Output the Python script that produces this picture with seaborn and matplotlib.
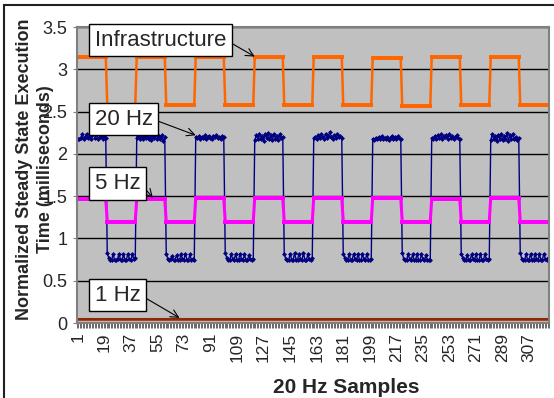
import numpy as np
import pandas as pd
import matplotlib
matplotlib.use('Agg')
import matplotlib.pyplot as plt
import seaborn as sns
from matplotlib.patches import Rectangle

# levels per half cycle (high phase, then low phase), 8 cycles of 20 + 20 samples
infra_high = [3.15, 3.15, 3.15, 3.15, 3.15, 3.13, 3.15, 3.14]
infra_low = [2.58, 2.58, 2.58, 2.58, 2.58, 2.56, 2.58, 2.58]

hz5_high = [1.47, 1.47, 1.48, 1.48, 1.48, 1.48, 1.47, 1.48]
hz5_low = [1.20, 1.19, 1.20, 1.20, 1.20, 1.20, 1.20, 1.20]

hz1_level = [0.05] * 8

hz20_high = [
    [2.18, 2.17, 2.19, 2.23, 2.18, 2.20, 2.24, 2.19, 2.21, 2.18, 2.22, 2.25, 2.19, 2.23, 2.18, 2.20, 2.22, 2.17, 2.21, 2.19],
    [2.19, 2.21, 2.18, 2.20, 2.17, 2.21, 2.19, 2.22, 2.18, 2.20, 2.16, 2.21, 2.19, 2.23, 2.18, 2.21, 2.17, 2.22, 2.15, 2.20],
    [2.20, 2.19, 2.21, 2.18, 2.20, 2.19, 2.22, 2.18, 2.20, 2.21, 2.19, 2.18, 2.21, 2.20, 2.22, 2.19, 2.20, 2.18, 2.21, 2.20],
    [2.16, 2.22, 2.18, 2.24, 2.17, 2.21, 2.15, 2.23, 2.19, 2.25, 2.17, 2.22, 2.16, 2.24, 2.18, 2.21, 2.16, 2.23, 2.19, 2.20],
    [2.19, 2.20, 2.18, 2.22, 2.19, 2.23, 2.20, 2.18, 2.24, 2.19, 2.21, 2.26, 2.20, 2.18, 2.22, 2.19, 2.24, 2.20, 2.21, 2.19],
    [2.18, 2.16, 2.19, 2.17, 2.20, 2.18, 2.21, 2.17, 2.19, 2.18, 2.20, 2.16, 2.19, 2.21, 2.17, 2.20, 2.18, 2.21, 2.19, 2.18],
    [2.19, 2.18, 2.21, 2.17, 2.22, 2.19, 2.23, 2.18, 2.21, 2.20, 2.22, 2.18, 2.23, 2.19, 2.21, 2.18, 2.20, 2.22, 2.19, 2.18],
    [2.16, 2.23, 2.17, 2.21, 2.15, 2.22, 2.18, 2.24, 2.16, 2.21, 2.17, 2.25, 2.15, 2.22, 2.18, 2.24, 2.17, 2.20, 2.16, 2.19],
]
hz20_low = [
    [0.83, 0.77, 0.74, 0.75, 0.81, 0.75, 0.74, 0.76, 0.82, 0.75, 0.74, 0.81, 0.75, 0.75, 0.82, 0.76, 0.74, 0.81, 0.76, 0.77],
    [0.82, 0.76, 0.74, 0.76, 0.79, 0.74, 0.75, 0.80, 0.75, 0.74, 0.81, 0.76, 0.75, 0.82, 0.75, 0.74, 0.81, 0.75, 0.76, 0.75],
    [0.83, 0.77, 0.75, 0.74, 0.81, 0.76, 0.74, 0.82, 0.75, 0.74, 0.82, 0.76, 0.74, 0.81, 0.75, 0.74, 0.80, 0.76, 0.75, 0.76],
    [0.82, 0.76, 0.75, 0.74, 0.82, 0.75, 0.74, 0.83, 0.75, 0.75, 0.82, 0.76, 0.74, 0.83, 0.75, 0.74, 0.81, 0.76, 0.75, 0.77],
    [0.82, 0.77, 0.74, 0.75, 0.81, 0.75, 0.74, 0.82, 0.76, 0.74, 0.82, 0.75, 0.74, 0.81, 0.76, 0.74, 0.82, 0.75, 0.75, 0.76],
    [0.83, 0.76, 0.74, 0.75, 0.81, 0.76, 0.74, 0.81, 0.75, 0.74, 0.82, 0.75, 0.74, 0.81, 0.76, 0.74, 0.80, 0.75, 0.75, 0.75],
    [0.82, 0.77, 0.75, 0.74, 0.80, 0.75, 0.74, 0.81, 0.76, 0.74, 0.82, 0.75, 0.74, 0.81, 0.75, 0.74, 0.81, 0.76, 0.75, 0.76],
    [0.83, 0.76, 0.74, 0.75, 0.81, 0.75, 0.74, 0.82, 0.75, 0.74, 0.82, 0.76, 0.74, 0.81, 0.75, 0.75, 0.82, 0.76, 0.75, 0.77],
]

half = 20
tick_step = 18


def square_wave(high, low):
    vals = []
    for h, l in zip(high, low):
        vals += [h] * half + [l] * half
    return vals


def blocks(high, low):
    vals = []
    for h, l in zip(high, low):
        vals += list(h) + list(l)
    return vals


infra = square_wave(infra_high, infra_low)
hz20 = blocks(hz20_high, hz20_low)
hz5 = square_wave(hz5_high, hz5_low)
hz1 = square_wave(hz1_level, hz1_level)
samples = np.arange(1, len(infra) + 1)

sns.set_style('whitegrid', {'axes.facecolor': '#C0C0C0', 'grid.color': 'black',
                            'axes.edgecolor': '#808080'})
plt.rcParams['font.family'] = ['Liberation Sans', 'DejaVu Sans']

fig = plt.figure(figsize=(5.54, 3.98), dpi=100)
W, H = 554, 398
ax = fig.add_axes([77 / W, 1 - 323 / H, 472 / W, 296 / H])

sns.lineplot(x=samples, y=infra, ax=ax, color='#FF6600', lw=1.8, marker='s',
             markersize=3.0, markeredgewidth=0)
sns.lineplot(x=samples, y=hz20, ax=ax, color='#000080', lw=1.0, marker='D',
             markersize=2.5, markeredgewidth=0)
sns.lineplot(x=samples, y=hz5, ax=ax, color='#FF00FF', lw=2.2, marker='s',
             markersize=3.4, markeredgewidth=0)
sns.lineplot(x=samples, y=hz1, ax=ax, color='#B0441A', lw=2.2, marker='s',
             markersize=2.0, markeredgewidth=0, markerfacecolor='#8A2A0A')

ax.set_xlim(0.5, len(samples) + 0.5)
ax.set_ylim(0, 3.5)
ax.set_yticks(np.arange(0, 3.51, 0.5))
ax.set_yticklabels(['0', '0.5', '1', '1.5', '2', '2.5', '3', '3.5'])
ax.grid(axis='x', visible=False)
ax.grid(axis='y', color='black', lw=1.0)
ax.set_xticks(samples[::tick_step])
ax.set_xticklabels([str(s) for s in samples[::tick_step]], rotation=90)
ax.set_xticks(np.arange(0.5, len(samples) + 1, 1), minor=True)
ax.tick_params(axis='x', which='major', length=0, pad=7, labelsize=12.5)
ax.tick_params(axis='x', which='minor', length=3.5, width=0.6, color='#505050', bottom=True)
ax.tick_params(axis='y', length=3, color='#808080', pad=4, labelsize=13, left=True)
for s in ax.spines.values():
    s.set_linewidth(1.5)

ax.set_xlabel('20 Hz Samples', fontsize=15, fontweight='bold')
ax.xaxis.set_label_coords((346 - 77) / 472, -0.185)
ax.set_ylabel('Normalized Steady State Execution\nTime (milliseconds)', fontsize=13,
              fontweight='bold', linespacing=1.3)
ax.yaxis.set_label_coords((54 - 77) / 472, 0.52)

box = dict(boxstyle='square,pad=0.25', fc='white', ec='black', lw=1)
arrow = dict(arrowstyle='->', color='black', lw=0.8, relpos=(1, 0.5), shrinkA=0, shrinkB=0,
             mutation_scale=14)
ax.annotate('Infrastructure', xy=(121, 3.15), xytext=(12.5, 3.345), fontsize=16,
            ha='left', va='center', bbox=box, arrowprops=arrow)
ax.annotate('20 Hz', xy=(81, 2.22), xytext=(12.5, 2.41), fontsize=16,
            ha='left', va='center', bbox=box, arrowprops=arrow)
ax.annotate('5 Hz', xy=(52, 1.48), xytext=(12.5, 1.65), fontsize=16,
            ha='left', va='center', bbox=box, arrowprops=arrow)
ax.annotate('1 Hz', xy=(70, 0.06), xytext=(12.5, 0.33), fontsize=16,
            ha='left', va='center', bbox=box, arrowprops=arrow)

# chart area border
fig.patches.append(Rectangle((4 / W, -0.1), 1.2, 1 - 5 / H + 0.1, transform=fig.transFigure,
                             fill=False, ec='#202020', lw=1.5))

fig.savefig('out.png', dpi=100)
